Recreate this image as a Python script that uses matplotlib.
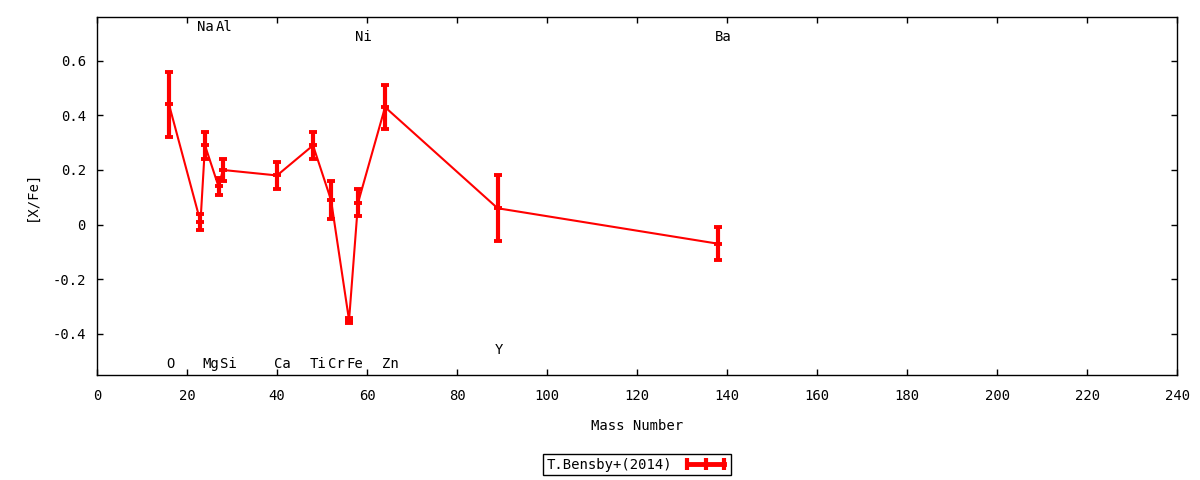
import matplotlib
matplotlib.use('Agg')
import matplotlib.pyplot as plt
from matplotlib.lines import Line2D
from matplotlib.transforms import offset_copy

# veriler: element, kütle numarası, [X/Fe] ve hata
elements = ['O', 'Na', 'Mg', 'Al', 'Si', 'Ca', 'Ti', 'Cr', 'Fe', 'Ni', 'Zn', 'Y', 'Ba']
mass = [16, 23, 24, 27, 28, 40, 48, 52, 56, 58, 64, 89, 138]
xfe = [0.44, 0.01, 0.29, 0.14, 0.20, 0.18, 0.29, 0.09, -0.35, 0.08, 0.43, 0.06, -0.07]
err = [0.12, 0.03, 0.05, 0.03, 0.04, 0.05, 0.05, 0.07, 0.01, 0.05, 0.08, 0.12, 0.06]
# etiketlerin dikey yeri
label_y = [-0.506, 0.726, -0.506, 0.726, -0.506, -0.506, -0.506, -0.506, -0.506,
           0.689, -0.506, -0.455, 0.689]
series_name = 'T.Bensby+(2014)'

plt.rcParams['font.family'] = ['DejaVu Sans Mono']
plt.rcParams['font.size'] = 10

fig = plt.figure(figsize=(12, 4.8), dpi=100)
ax = fig.add_axes([0.0808, 0.219, 0.9003, 0.7456])

red = '#ff0000'
ax.errorbar(mass, xfe, yerr=err, color=red, lw=1.5, elinewidth=3,
            capsize=3, capthick=2.8, marker='_', ms=6, mew=2.8)

# element isimleri (sol hizalı, biraz sola kaydırılmış)
trans = offset_copy(ax.transData, fig=fig, x=-3, y=-1, units='dots')
for el, m, ly in zip(elements, mass, label_y):
    ax.text(m, ly, el, transform=trans, ha='left', va='center', fontsize=10)

ax.set_xlim(0, 240)
ax.set_ylim(-0.55, 0.76)
ax.set_xticks(range(0, 241, 20))
ax.set_yticks([-0.4, -0.2, 0, 0.2, 0.4, 0.6])
ax.set_yticklabels(['-0.4', '-0.2', '0', '0.2', '0.4', '0.6'])
ax.tick_params(direction='in', top=True, right=True, length=4, width=1, pad=8)
ax.tick_params(axis='x', pad=10)
for s in ax.spines.values():
    s.set_linewidth(1)

ax.set_xlabel('Mass Number', labelpad=12)
ax.set_ylabel('[X/Fe]', labelpad=10)

handle = Line2D([0], [0], color=red, lw=3.5, marker='|', ms=9, mew=3)
leg = ax.legend([handle], [series_name], loc='center', bbox_to_anchor=(0.5, -0.251),
                markerfirst=False, numpoints=3, fancybox=False, framealpha=1,
                edgecolor='black', borderpad=0.25, handlelength=3.2,
                handletextpad=0.8, borderaxespad=0)
leg.get_frame().set_linewidth(1)

fig.savefig('out.png', dpi=100)
